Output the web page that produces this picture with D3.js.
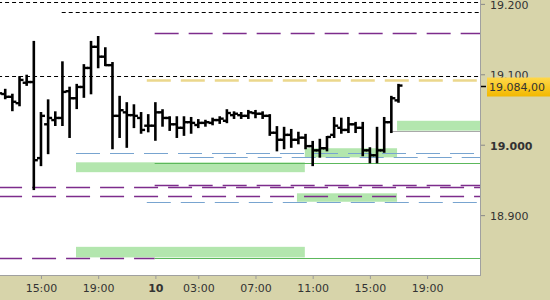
<!DOCTYPE html>
<html>
<head>
<meta charset="utf-8">
<script src="https://cdn.jsdelivr.net/npm/d3@7"></script>
<style>
  body { margin: 0; background: #fff; }
  svg text { font-family: "DejaVu Sans", sans-serif; font-size: 11px; fill: #333; }
</style>
</head>
<body>
<div id="chart"></div>
<script>
// 30-minute bars, index 0 = 15:00 of the first day
var barIndex = d3.range(-6, 51);
var open  = [19075,19072,19068,19059,19088,19089,18981,19029,19035,19038,19076,19066,19082,19109,19139,19125,19113,19041,19046,19042,19038,19027,19027,19046,19038,19029,19024,19032,19028,19031,19031,19035,19034,19042,19042,19041,19045,19044,19041,19017,19007,19014,19007,19010,18998,18992,18995,19014,19024,19021,19029,19024,18992,18985,18992,19032,19063];
var high  = [19081,19078,19071,19096,19098,19146,19045,19063,19046,19117,19081,19085,19113,19146,19153,19137,19116,19068,19059,19056,19045,19042,19059,19049,19039,19039,19039,19038,19035,19034,19037,19039,19049,19046,19045,19048,19048,19046,19042,19025,19024,19021,19017,19014,19004,19007,19011,19038,19037,19038,19031,19031,18995,19024,19038,19068,19085];
var low   = [19069,19066,19049,19056,19085,18937,18971,18988,19028,19028,19011,19052,19068,19073,19110,19113,18995,19011,18997,19025,19017,19019,19007,19027,19021,19011,19014,19017,19025,19027,19029,19031,19032,19038,19038,19038,19039,19038,19014,18992,18995,18997,19002,18995,18971,18983,18992,19011,19017,19018,19018,18985,18975,18975,18990,19018,19061];
var close = [19073,19068,19061,19092,19089,18978,19041,19038,19038,19075,19066,19082,19109,19139,19125,19113,19041,19049,19042,19041,19021,19027,19046,19038,19029,19024,19032,19031,19031,19032,19035,19037,19045,19044,19041,19046,19044,19041,19017,19007,19014,19007,19010,18998,18992,18995,19011,19027,19021,19029,19024,18992,18985,18992,19032,19066,19084];

var lastPrice = 19084;

var xTickIndex  = [0, 8, 16, 22, 30, 38, 46, 54];
var xTickLabels = ["15:00", "19:00", "10", "03:00", "07:00", "11:00", "15:00", "19:00"];
var yTicks = [18900, 19000, 19100, 19200];

// horizontal levels: price, first bar, last bar, kind
var levelPrice = [19203, 19188, 19098, 19159, 18943, 18940, 18927, 18839, 19092, 18988, 18983, 18919, 18974, 18839, 19019];
var levelFrom  = [-6, 2.9, -6, 15.9, 15.9, -6, -6, -6, 14.8, 4.9, 20.8, 14.8, 15.9, 15.9, 48.8];
var levelTo    = [62, 62, 62, 62, 62, 62, 62, 15.9, 62, 62, 62, 62, 62, 62, 62];
var levelKind  = ["pivot", "pivot", "pivot", "band", "band", "band", "band", "band", "target", "stop", "stop", "stop", "trend", "trend", "base"];

// green zones
var zoneFrom = [4.9, 36.9, 49.8, 35.8, 4.9];
var zoneTo   = [36.9, 49.8, 62, 49.8, 36.9];
var zoneLow  = [18961, 18982, 19020, 18919, 18840];
var zoneHigh = [18975, 18995, 19034, 18931, 18855];

var W = 550, H = 300, plotW = 480, plotH = 275;
var tan = "#d7d4aa";

var svg = d3.select("#chart").append("svg").attr("width", W).attr("height", H);

var x = d3.scaleLinear().domain([-5.73, 61.4]).range([0, plotW]);
var y = d3.scaleLinear().domain([18815, 19205.5]).range([plotH, 0]);

svg.append("rect").attr("width", W).attr("height", H).attr("fill", tan);
svg.append("rect").attr("width", plotW).attr("height", plotH).attr("fill", "#fff");

svg.append("clipPath").attr("id", "clip")
  .append("rect").attr("width", plotW).attr("height", plotH);

var plot = svg.append("g").attr("clip-path", "url(#clip)");

// zones
plot.selectAll(".zone").data(zoneFrom).enter().append("rect")
  .attr("class", "zone")
  .attr("x", function(d) { return x(d); })
  .attr("width", function(d, i) { return x(zoneTo[i]) - x(d); })
  .attr("y", function(d, i) { return y(zoneHigh[i]); })
  .attr("height", function(d, i) { return y(zoneLow[i]) - y(zoneHigh[i]); })
  .attr("fill", "#b3e6ae");

var levelStyle = {
  pivot:  { stroke: "#000", width: 1, dash: "4,3" },
  band:   { stroke: "#7d2c8c", width: 1.5, dash: "24,10" },
  target: { stroke: "#ebd78c", width: 2.5, dash: "24,10" },
  stop:   { stroke: "#78a4d0", width: 1.2, dash: "24,10" },
  trend:  { stroke: "#5cb85c", width: 1.2, dash: null },
  base:   { stroke: "#a9a9a9", width: 1, dash: null }
};

plot.selectAll(".level").data(levelPrice).enter().append("line")
  .attr("class", "level")
  .attr("x1", function(d, i) { return x(levelFrom[i]); })
  .attr("x2", function(d, i) { return x(levelTo[i]); })
  .attr("y1", function(d) { return Math.round(y(d)) + 0.5; })
  .attr("y2", function(d) { return Math.round(y(d)) + 0.5; })
  .attr("stroke", function(d, i) { return levelStyle[levelKind[i]].stroke; })
  .attr("stroke-width", function(d, i) { return levelStyle[levelKind[i]].width; })
  .attr("stroke-dasharray", function(d, i) { return levelStyle[levelKind[i]].dash; });

// OHLC bars
var bars = plot.selectAll(".bar").data(barIndex).enter().append("g").attr("class", "bar");
bars.append("line")
  .attr("x1", function(d) { return x(d); }).attr("x2", function(d) { return x(d); })
  .attr("y1", function(d, i) { return y(high[i]) - 1; })
  .attr("y2", function(d, i) { return y(low[i]) + 1; })
  .attr("stroke", "#000").attr("stroke-width", 2.6);
bars.append("line")
  .attr("x1", function(d) { return x(d) - 4; }).attr("x2", function(d) { return x(d); })
  .attr("y1", function(d, i) { return y(open[i]); })
  .attr("y2", function(d, i) { return y(open[i]); })
  .attr("stroke", "#000").attr("stroke-width", 2.4);
bars.append("line")
  .attr("x1", function(d) { return x(d); }).attr("x2", function(d) { return x(d) + 4; })
  .attr("y1", function(d, i) { return y(close[i]); })
  .attr("y2", function(d, i) { return y(close[i]); })
  .attr("stroke", "#000").attr("stroke-width", 2.4);

// frame
svg.append("line").attr("x1", plotW + 0.5).attr("x2", plotW + 0.5).attr("y1", 0).attr("y2", plotH + 1)
  .attr("stroke", "#a0a0a0");
svg.append("line").attr("x1", 0).attr("x2", plotW + 1).attr("y1", plotH + 0.5).attr("y2", plotH + 0.5)
  .attr("stroke", "#a0a0a0");

// axes
var fmt = function(d) { return d3.format(",.0f")(d).replace(/,/g, "."); };

var yAxis = svg.append("g").attr("transform", "translate(" + (plotW + 1) + ",0)")
  .call(d3.axisRight(y).tickValues(yTicks).tickSize(4).tickPadding(5).tickFormat(fmt));
yAxis.select(".domain").remove();
yAxis.selectAll(".tick line").attr("stroke", "#888");
yAxis.selectAll(".tick text").attr("fill", "#333").attr("dy", "0.42em").style("font-size", "11px")
  .style("font-weight", function(d) { return d % 1000 === 0 ? "bold" : "normal"; });

var xAxis = svg.append("g").attr("transform", "translate(0," + (plotH + 1) + ")")
  .call(d3.axisBottom(x).tickValues(xTickIndex).tickSize(3).tickPadding(5)
    .tickFormat(function(d, i) { return xTickLabels[i]; }));
xAxis.select(".domain").remove();
xAxis.selectAll(".tick line").attr("stroke", "#999");
xAxis.selectAll(".tick text").attr("fill", "#333").style("font-size", "11px")
  .style("font-weight", function(d, i) { return xTickLabels[i].length < 3 ? "bold" : "normal"; });

// last price marker
var yl = Math.round(y(lastPrice)) + 0.5;
svg.append("line").attr("x1", plotW + 1).attr("x2", plotW + 6).attr("y1", yl).attr("y2", yl)
  .attr("stroke", "#000").attr("stroke-width", 1.5);
var grad = svg.append("defs").append("linearGradient").attr("id", "lp")
  .attr("x1", 0).attr("y1", 0).attr("x2", 0).attr("y2", 1);
grad.append("stop").attr("offset", "0%").attr("stop-color", "#ffd84a");
grad.append("stop").attr("offset", "100%").attr("stop-color", "#f2b800");
svg.append("rect").attr("x", plotW + 7).attr("y", yl - 9).attr("width", W - plotW - 7).attr("height", 19)
  .attr("fill", "url(#lp)");
svg.append("text").attr("x", plotW + 9).attr("y", yl + 4.5)
  .attr("fill", "#111").style("font-size", "11px")
  .text(d3.format(",.2f")(lastPrice).replace(/,/g, "#").replace(".", ",").replace(/#/g, "."));
</script>
</body>
</html>
